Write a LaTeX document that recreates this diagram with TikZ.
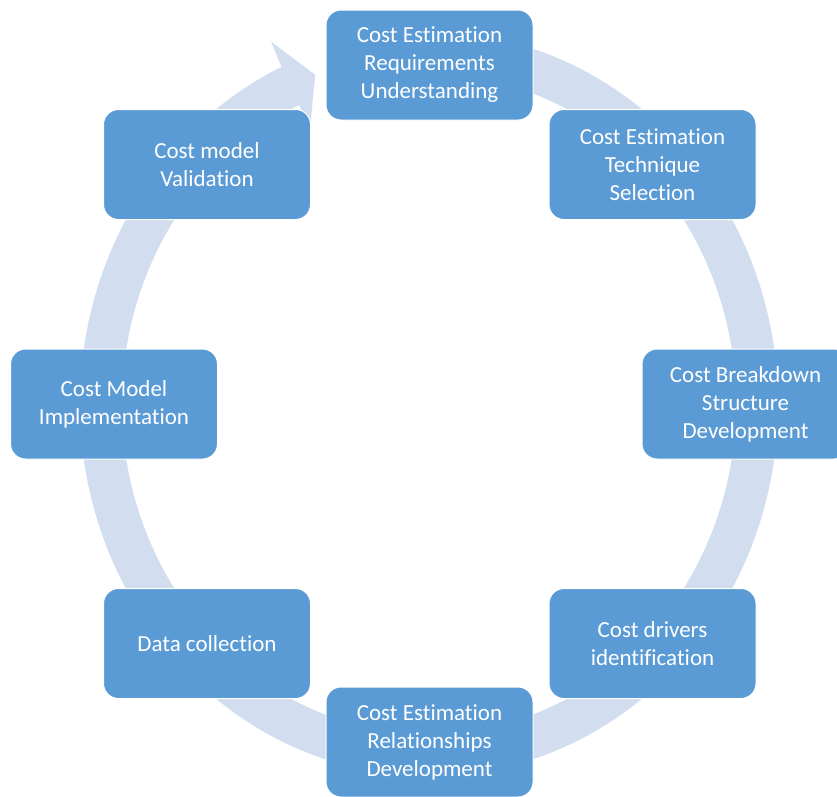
\documentclass[tikz,border=0pt]{standalone}
\usepackage{fontspec}
\setmainfont{Carlito}[Ligatures=NoCommon]
\usepackage{tikz}
\usetikzlibrary{calc}
\definecolor{stageblue}{RGB}{91,155,213}
\definecolor{ringblue}{RGB}{210,222,239}

\begin{document}
\begin{tikzpicture}[x=1pt, y=-1pt,
  stage/.style={draw=white, line width=1pt, fill=stageblue, rounded corners=15pt,
    minimum width=207pt, minimum height=110pt, text=white, align=center,
    font=\fontsize{23}{28}\selectfont, inner sep=2pt},
  ring/.style={fill=ringblue}
]
\useasboundingbox (0,0) rectangle (837,796);

% circular arrow behind the stages
\coordinate (hub) at (429,404);
\fill[ring] ([shift={(-90:349 and 372)}]hub)
  arc[start angle=-90, end angle=245, x radius=349, y radius=372]
  -- ([shift={(245:374 and 400)}]hub)
  -- ([shift={(249.7:328 and 351)}]hub)
  -- ([shift={(245:282 and 302)}]hub)
  -- ([shift={(245:307 and 330)}]hub)
  arc[start angle=245, end angle=-90, x radius=307, y radius=330]
  -- cycle;

% stages
\node[stage] (reqs) at (429.5,65) {Cost Estimation\\Requirements\\Understanding};
\node[stage] (technique) at (652.5,164.5) {Cost Estimation\\Technique\\Selection};
\node[stage] (cbs) at (745.5,404) {Cost Breakdown\\Structure\\Development};
\node[stage] (drivers) at (652.5,643.5) {Cost drivers\\identification};
\node[stage] (cer) at (429.5,742) {Cost Estimation\\Relationships\\Development};
\node[stage] (datacoll) at (207,643.5) {Data collection};
\node[stage] (implement) at (114,404) {Cost Model\\Implementation};
\node[stage] (validation) at (207,164.5) {Cost model\\Validation};

\end{tikzpicture}
\end{document}
